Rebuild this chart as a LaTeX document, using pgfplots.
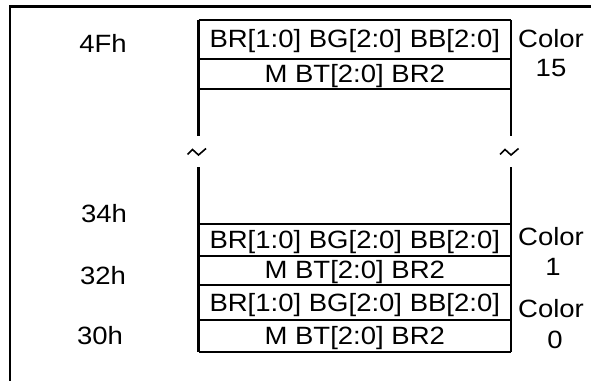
\documentclass[border=0pt]{standalone}
\usepackage{pgfplots}
\pgfplotsset{compat=1.18}
\usepackage{fontspec}
\setmainfont{Liberation Sans}
\newfontfamily\labfont{Liberation Sans}[FakeStretch=1.1]
\newcommand{\lab}{\labfont\fontsize{25bp}{28bp}\selectfont}
\begin{document}
\begin{tikzpicture}
\begin{axis}[name=ax,
  width=591bp, height=381bp, scale only axis,
  xmin=0, xmax=591, ymin=0, ymax=381, y dir=reverse,
  hide axis, clip=false]
% outer frame
\addplot[black, line width=2.3bp] coordinates {(10,381) (10,6.5) (591,6.5)};
% box verticals
\addplot[black, line width=2.3bp] coordinates {(198.5,20) (198.5,136)};
\addplot[black, line width=2.3bp] coordinates {(198.5,167) (198.5,352)};
\addplot[black, line width=2.3bp] coordinates {(511,20) (511,136)};
\addplot[black, line width=2.3bp] coordinates {(511,167) (511,352)};
% horizontal lines
\addplot[black, line width=2.3bp] coordinates {(198.5,20) (511,20)};
\addplot[black, line width=2.3bp] coordinates {(198.5,59) (511,59)};
\addplot[black, line width=2.3bp] coordinates {(198.5,89) (511,89)};
\addplot[black, line width=2.3bp] coordinates {(198.5,224) (511,224)};
\addplot[black, line width=2.3bp] coordinates {(198.5,256) (511,256)};
\addplot[black, line width=1.8bp] coordinates {(198.5,285) (511,285)};
\addplot[black, line width=2.3bp] coordinates {(198.5,320) (511,320)};
\addplot[black, line width=2.3bp] coordinates {(198.5,352) (511,352)};
% break marks
\addplot[black, line width=1.6bp] coordinates {(187.5,154.5) (192.5,149.5) (198.5,155) (206,148.5)};
\addplot[black, line width=1.6bp] coordinates {(500,154.5) (505,149.5) (511,155) (518.5,148.5)};
% cell texts
\node[anchor=base, font=\lab] at (axis cs:354.75,47) {BR[1:0] BG[2:0] BB[2:0]};
\node[anchor=base, font=\lab] at (axis cs:354.75,82) {M BT[2:0] BR2};
\node[anchor=base, font=\lab] at (axis cs:354.75,248) {BR[1:0] BG[2:0] BB[2:0]};
\node[anchor=base, font=\lab] at (axis cs:354.75,278.5) {M BT[2:0] BR2};
\node[anchor=base, font=\lab] at (axis cs:354.75,311) {BR[1:0] BG[2:0] BB[2:0]};
\node[anchor=base, font=\lab] at (axis cs:354.75,344) {M BT[2:0] BR2};
% addresses
\node[anchor=base, font=\lab] at (axis cs:103,52.5) {4Fh};
\node[anchor=base, font=\lab] at (axis cs:104,222) {34h};
\node[anchor=base, font=\lab] at (axis cs:103,284) {32h};
\node[anchor=base, font=\lab] at (axis cs:100,344) {30h};
% color labels
\node[anchor=base, font=\lab] at (axis cs:551,47) {Color};
\node[anchor=base, font=\lab] at (axis cs:551,76) {15};
\node[anchor=base, font=\lab] at (axis cs:551,245) {Color};
\node[anchor=base, font=\lab] at (axis cs:553,275) {1};
\node[anchor=base, font=\lab] at (axis cs:551,317) {Color};
\node[anchor=base, font=\lab] at (axis cs:555,348) {0};
\end{axis}
\pgfresetboundingbox
\useasboundingbox (ax.south west) rectangle (ax.north east);
\end{tikzpicture}
\end{document}
